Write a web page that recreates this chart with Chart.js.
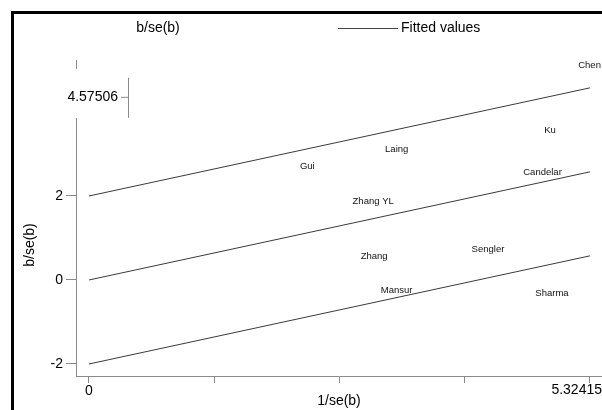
<!DOCTYPE html>
<html>
<head>
<meta charset="utf-8">
<script src="https://cdn.jsdelivr.net/npm/chart.js@4.4.1/dist/chart.umd.min.js"></script>
<style>
  html, body { margin: 0; padding: 0; background: #fff; }
  canvas { display: block; }
</style>
</head>
<body>
<canvas id="galbraith" width="602" height="410"></canvas>
<script>
// studies placed at (1/se(b), b/se(b))
const studies = ["Chen", "Ku", "Laing", "Gui", "Candelar", "Zhang YL", "Zhang", "Sengler", "Mansur", "Sharma"];
const precision = [5.32, 4.90, 3.27, 2.32, 4.82, 3.02, 3.03, 4.24, 3.27, 4.92];
const zScore = [5.10, 3.57, 3.12, 2.71, 2.57, 1.88, 0.57, 0.74, -0.24, -0.31];

// fitted line and the +/-2 band lines (end points)
const fitX = [0, 5.32415];
const fitUpper = [2, 4.57506];
const fitMid = [0, 2.57506];
const fitLower = [-2, 0.57506];

const xTicks = [0, 1.33104, 2.66208, 3.99311, 5.32415];
const xTickLabels = ["0", "", "", "", "5.32415"];
const yTicks = [-2, 0, 2];
const yTickLabels = ["-2", "0", "2"];
const yMarked = 4.57506;

const FONT = "Liberation Sans";
const ink = "#000";
const axisGrey = "#8a8a8a";

function linePoints(ys) {
  return fitX.map((x, i) => ({ x: x, y: ys[i] }));
}

const fitLine = ys => ({
  type: "line",
  label: "Fitted values",
  data: linePoints(ys),
  borderColor: "#3a3a3a",
  borderWidth: 1,
  pointRadius: 0,
  fill: false,
});

// frame, legend, point labels and the odd y axis piece from the scan
const stataExtras = {
  id: "stataExtras",
  afterDraw(chart) {
    const ctx = chart.ctx;
    const area = chart.chartArea;
    const xs = chart.scales.x, ys = chart.scales.y;
    ctx.save();

    // outer frame (only left and top show)
    ctx.fillStyle = "#000";
    ctx.fillRect(11, 11, 3, 399);
    ctx.fillRect(11, 11, 591, 3);

    // y axis line, broken where the scan was shifted
    ctx.strokeStyle = axisGrey;
    ctx.lineWidth = 1;
    ctx.beginPath();
    ctx.moveTo(area.left + 0.5, area.top);
    ctx.lineTo(area.left + 0.5, area.top + 9);
    ctx.moveTo(area.left + 0.5, area.top + 58);
    ctx.lineTo(area.left + 0.5, area.bottom);
    ctx.stroke();

    const yp = ys.getPixelForValue(yMarked);
    const sx = area.left + 52;
    ctx.beginPath();
    ctx.moveTo(sx + 0.5, yp - 10);
    ctx.lineTo(sx + 0.5, yp + 30);
    ctx.moveTo(sx - 7, yp + 9.5);
    ctx.lineTo(sx, yp + 9.5);
    ctx.stroke();
    ctx.fillStyle = ink;
    ctx.font = "14px '" + FONT + "'";
    ctx.textAlign = "right";
    ctx.textBaseline = "middle";
    ctx.fillText(String(yMarked), sx - 10, yp + 9);

    // last x tick label sits flush with the right edge
    ctx.textBaseline = "top";
    ctx.fillText(xTickLabels[xTickLabels.length - 1], 602, area.bottom + 7);

    // y axis title
    ctx.save();
    ctx.translate(30, 245);
    ctx.rotate(-Math.PI / 2);
    ctx.textAlign = "center";
    ctx.textBaseline = "middle";
    ctx.fillText("b/se(b)", 0, 0);
    ctx.restore();

    // legend
    ctx.textBaseline = "middle";
    ctx.textAlign = "center";
    ctx.fillText("b/se(b)", 158, 28);
    ctx.beginPath();
    ctx.strokeStyle = "#444";
    ctx.moveTo(338, 28.5);
    ctx.lineTo(398, 28.5);
    ctx.stroke();
    ctx.textAlign = "left";
    ctx.fillText("Fitted values", 401, 28);

    // study labels
    ctx.font = "9.5px '" + FONT + "'";
    ctx.fillStyle = "#111";
    ctx.textAlign = "center";
    studies.forEach((name, i) => {
      ctx.fillText(name, xs.getPixelForValue(precision[i]), ys.getPixelForValue(zScore[i]));
    });
    ctx.restore();
  },
};

new Chart(document.getElementById("galbraith"), {
  type: "scatter",
  data: {
    datasets: [
      {
        label: "b/se(b)",
        data: precision.map((x, i) => ({ x: x, y: zScore[i] })),
        pointRadius: 0,
        showLine: false,
      },
      fitLine(fitUpper),
      fitLine(fitMid),
      fitLine(fitLower),
    ],
  },
  options: {
    responsive: false,
    animation: false,
    devicePixelRatio: 1,
    layout: { padding: { top: 60, left: 0, right: 0, bottom: 0 } },
    plugins: { legend: { display: false }, tooltip: { enabled: false } },
    scales: {
      x: {
        type: "linear",
        min: -0.138,
        max: 5.452,
        afterBuildTicks: s => { s.ticks = xTicks.map(v => ({ value: v })); },
        afterFit: s => { s.height = 34; s.paddingLeft = 0; s.paddingRight = 0; },
        ticks: {
          // the last label is drawn by the plugin, right aligned
          callback: (v, i) => (i === xTickLabels.length - 1 ? "" : xTickLabels[i]),
          autoSkip: false,
          maxRotation: 0,
          padding: 0,
          color: ink,
          font: { family: FONT, size: 14 },
        },
        grid: { drawOnChartArea: false, tickLength: 7, color: axisGrey },
        border: { color: axisGrey },
        title: {
          display: true,
          text: "1/se(b)",
          color: ink,
          font: { family: FONT, size: 14 },
          padding: { top: 0, bottom: 0 },
        },
      },
      y: {
        type: "linear",
        min: -2.286,
        max: 5.238,
        afterBuildTicks: s => { s.ticks = yTicks.map(v => ({ value: v })); },
        afterFit: s => { s.width = 76; s.paddingTop = 0; s.paddingBottom = 0; },
        ticks: {
          callback: (v, i) => yTickLabels[i],
          padding: 3,
          color: ink,
          font: { family: FONT, size: 14 },
        },
        grid: { drawOnChartArea: false, tickLength: 10, color: axisGrey },
        border: { display: false },
        title: { display: false },
      },
    },
  },
  plugins: [stataExtras],
});
</script>
</body>
</html>
